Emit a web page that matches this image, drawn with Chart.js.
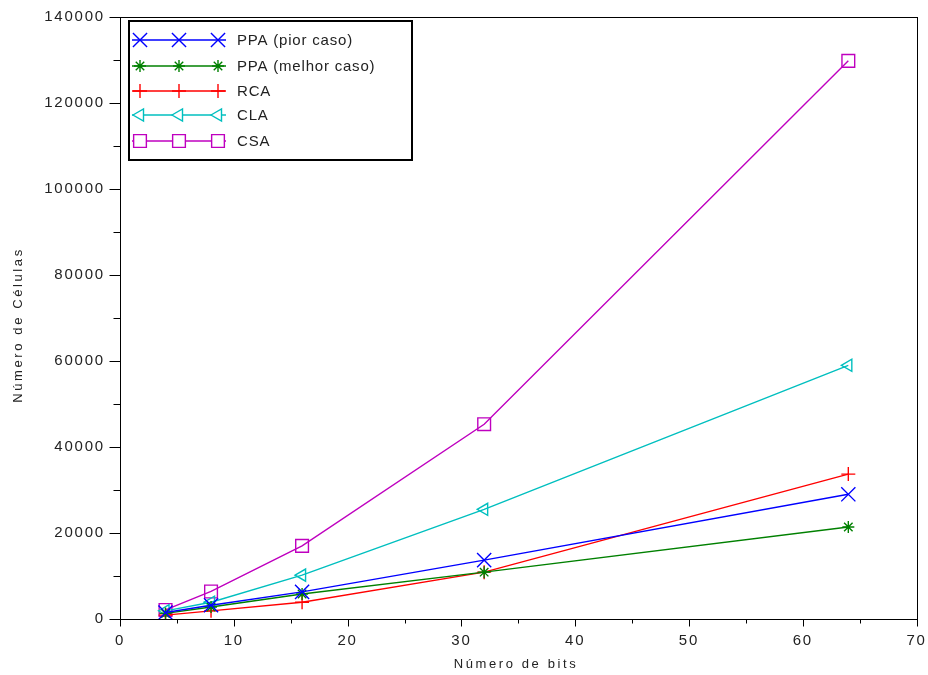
<!DOCTYPE html>
<html>
<head>
<meta charset="utf-8">
<script src="https://cdn.jsdelivr.net/npm/chart.js@4"></script>
<style>
  html, body { margin: 0; padding: 0; background: #fff; }
  #wrap { width: 928px; height: 675px; }
</style>
</head>
<body>
<div id="wrap"><canvas id="myChart" width="928" height="675"></canvas></div>
<script>
// dados
var bits = [4, 8, 16, 32, 64];
var ppaPior = [1500, 3200, 6300, 13700, 29000];
var ppaMelhor = [1300, 2800, 5800, 10900, 21400];
var rca = [900, 1900, 3900, 10900, 33700];
var cla = [1900, 3900, 10200, 25500, 59000];
var csa = [2100, 6400, 17000, 45300, 129800];

var seriesNames = ['PPA (pior caso)', 'PPA (melhor caso)', 'RCA', 'CLA', 'CSA'];
var seriesValues = [ppaPior, ppaMelhor, rca, cla, csa];
var seriesColors = ['#0000ff', '#008000', '#ff0000', '#00bfbf', '#bf00bf'];
var seriesMarkers = ['crossRot', 'star', 'cross', 'triangle', 'rect'];
var seriesRotation = [0, 0, 0, -90, 0];
var seriesRadius = [10, 6, 7, 7, 9];

var xTitle = 'Número de bits';
var yTitle = 'Número de Células';

var fontFamily = '"Liberation Sans", Arial, sans-serif';

function toPoints(vals) {
  return bits.map(function(b, i) { return {x: b, y: vals[i]}; });
}

var datasets = seriesNames.map(function(name, i) {
  return {
    label: name,
    data: toPoints(seriesValues[i]),
    showLine: true,
    borderColor: seriesColors[i],
    backgroundColor: '#ffffff',
    borderWidth: 1.4,
    pointStyle: seriesMarkers[i],
    rotation: seriesRotation[i],
    pointRadius: seriesRadius[i],
    pointBorderWidth: 1.4,
    pointBackgroundColor: 'rgba(255,255,255,0)',
    pointBorderColor: seriesColors[i],
    pointHoverRadius: seriesRadius[i]
  };
});

function line(c, x1, y1, x2, y2) {
  c.beginPath();
  c.moveTo(x1, y1);
  c.lineTo(x2, y2);
  c.stroke();
}

// moldura, marcas dos eixos, títulos e legenda em caixa
var framePlugin = {
  id: 'frame',
  beforeDraw: function(chart) {
    chart.ctx.letterSpacing = '1.8px';
  },
  afterDraw: function(chart) {
    var c = chart.ctx, a = chart.chartArea;
    var xs = chart.scales.x, ys = chart.scales.y;
    c.save();
    c.strokeStyle = '#000';
    c.lineWidth = 1;
    c.strokeRect(Math.round(a.left) + 0.5, Math.round(a.top) + 0.5,
                 Math.round(a.right - a.left), Math.round(a.bottom - a.top));

    // marcas maiores e menores
    var bottom = Math.round(a.bottom) + 0.5, left = Math.round(a.left) + 0.5;
    xs.ticks.forEach(function(t) {
      var px = Math.round(xs.getPixelForValue(t.value)) + 0.5;
      line(c, px, bottom, px, bottom + (t.value % 10 === 0 ? 7 : 4));
    });
    ys.ticks.forEach(function(t) {
      var py = Math.round(ys.getPixelForValue(t.value)) + 0.5;
      line(c, left - (t.value % 20000 === 0 ? 11 : 7), py, left, py);
    });

    // títulos dos eixos
    c.fillStyle = '#222';
    c.font = '13px ' + fontFamily;
    c.letterSpacing = '2.6px';
    c.textAlign = 'center';
    c.textBaseline = 'alphabetic';
    c.fillText(xTitle, 516, 668);
    c.save();
    c.translate(18, 325);
    c.rotate(-Math.PI / 2);
    c.textBaseline = 'middle';
    c.fillText(yTitle, 0, 0);
    c.restore();

    // caixa da legenda
    var bx = 128, by = 20, bw = 284, bh = 140;
    c.fillStyle = '#fff';
    c.fillRect(bx, by, bw, bh);
    c.lineWidth = 1;
    c.strokeStyle = '#000';
    c.strokeRect(bx + 0.5, by + 0.5, bw, bh);
    c.strokeRect(bx + 1.5, by + 1.5, bw - 2, bh - 2);

    c.font = '15px ' + fontFamily;
    c.letterSpacing = '0.8px';
    c.textAlign = 'left';
    c.textBaseline = 'middle';
    var rows = [40, 66, 91, 115, 141];
    chart.data.datasets.forEach(function(ds, i) {
      var y = rows[i];
      c.strokeStyle = ds.borderColor;
      c.lineWidth = 1.4;
      line(c, 132, y, 226, y);
      [140, 179, 218].forEach(function(mx) {
        c.fillStyle = '#fff';
        Chart.helpers.drawPoint(c, {
          pointStyle: ds.pointStyle,
          rotation: ds.rotation,
          radius: ds.pointRadius,
          borderWidth: 1.4
        }, mx, y);
      });
      c.fillStyle = '#222';
      c.fillText(ds.label, 237, y + 1);
    });
    c.restore();
    c.letterSpacing = '0px';
  }
};

var ctx = document.getElementById('myChart').getContext('2d');

var chart = new Chart(ctx, {
  type: 'scatter',
  data: { datasets: datasets },
  options: {
    responsive: false,
    animation: false,
    devicePixelRatio: 1,
    layout: { padding: { top: 17, right: 10, left: 0, bottom: 0 } },
    plugins: {
      legend: { display: false },
      tooltip: { enabled: false }
    },
    scales: {
      x: {
        type: 'linear',
        min: 0,
        max: 70,
        afterFit: function(s) {
          s.height = 56;
          s.paddingLeft = 0;
          s.paddingRight = 0;
        },
        border: { display: true, color: '#000', width: 1 },
        grid: { drawOnChartArea: false, drawTicks: false },
        ticks: {
          stepSize: 5,
          color: '#222',
          padding: 13,
          maxRotation: 0,
          font: { family: fontFamily, size: 15 },
          callback: function(v) { return v % 10 === 0 ? String(v) : ''; }
        }
      },
      y: {
        type: 'linear',
        min: 0,
        max: 140000,
        afterFit: function(s) {
          s.width = 120;
          s.paddingTop = 0;
          s.paddingBottom = 0;
        },
        border: { display: true, color: '#000', width: 1 },
        grid: { drawOnChartArea: false, drawTicks: false },
        ticks: {
          stepSize: 10000,
          color: '#222',
          padding: 15,
          font: { family: fontFamily, size: 15 },
          callback: function(v) { return v % 20000 === 0 ? String(v) : ''; }
        }
      }
    }
  },
  plugins: [framePlugin]
});
</script>
</body>
</html>
